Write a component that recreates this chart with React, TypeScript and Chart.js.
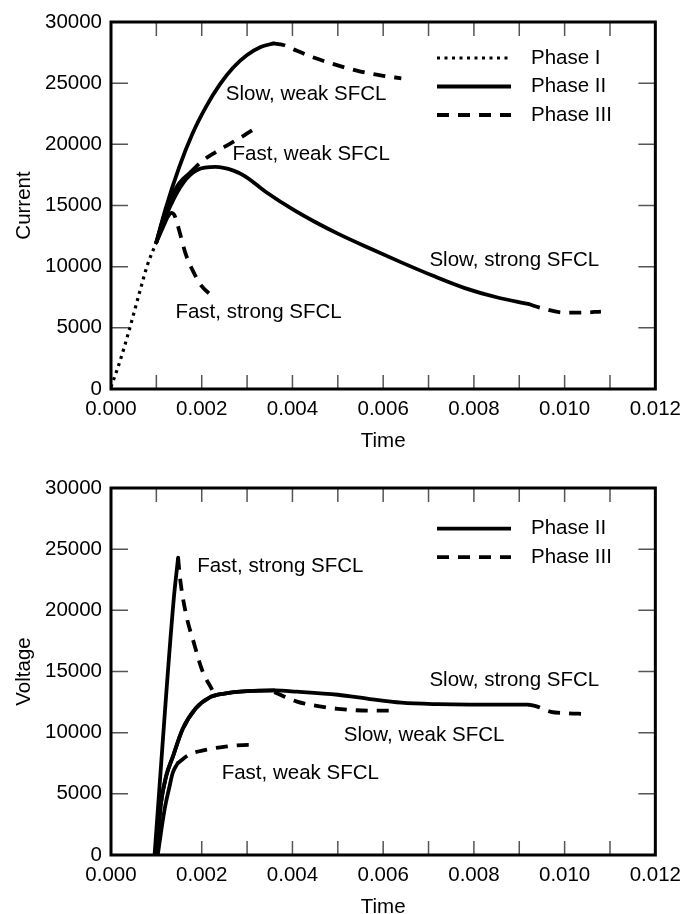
import React, { useEffect, useRef } from 'react';
import { Chart, registerables } from 'chart.js';

Chart.register(...registerables);

type Pt = [number, number];

// ---------- axes ----------
const timeTicks = [0, 0.002, 0.004, 0.006, 0.008, 0.01, 0.012];
const timeInnerTicks = [0.001, 0.002, 0.003, 0.004, 0.005, 0.006, 0.007, 0.008, 0.009, 0.01, 0.011];
const valueTicks = [0, 5000, 10000, 15000, 20000, 25000, 30000];

// ---------- top chart: Current ----------
const curPhaseI: Pt[] = [[0, 150], [0.0002, 2300], [0.0004, 4800], [0.0006, 7500], [0.0008, 10100], [0.001, 12000]];
const curSlowWeakII: Pt[] = [[0.001, 12000], [0.0012, 14700], [0.0015, 18100], [0.0018, 20900], [0.0021, 23100], [0.0024, 24900], [0.0027, 26300], [0.003, 27300], [0.0033, 27950], [0.00358, 28250]];
const curSlowWeakIII: Pt[] = [[0.00358, 28250], [0.0038, 28120], [0.0041, 27650], [0.0045, 27050], [0.005, 26450], [0.0055, 25950], [0.006, 25600], [0.0064, 25400]];
const curFastWeakII: Pt[] = [[0.001, 12000], [0.0012, 14500], [0.00136, 15900], [0.0015, 16800], [0.00175, 17700]];
const curFastWeakIII: Pt[] = [[0.00175, 17700], [0.002, 18600], [0.0023, 19350], [0.0026, 20000], [0.0029, 20650], [0.0032, 21350]];
const curSlowStrongII: Pt[] = [[0.001, 12000], [0.0013, 14900], [0.0016, 16900], [0.0019, 17900], [0.0023, 18150], [0.0027, 17850], [0.00295, 17400], [0.0034, 16150], [0.004, 14700], [0.0045, 13650], [0.005, 12700], [0.0057, 11500], [0.0064, 10350], [0.0071, 9250], [0.0078, 8250], [0.0085, 7500], [0.0092, 6950]];
const curSlowStrongIII: Pt[] = [[0.0092, 6950], [0.0095, 6600], [0.01, 6250], [0.0104, 6250], [0.0108, 6330]];
const curFastStrongII: Pt[] = [[0.001, 12000], [0.00125, 14100]];
const curFastStrongIII: Pt[] = [[0.00125, 14100], [0.00133, 14400], [0.0014, 14200], [0.0015, 13000], [0.00165, 11000], [0.0018, 9700], [0.002, 8400], [0.00223, 7600]];

// ---------- bottom chart: Voltage ----------
const volFastStrongII: Pt[] = [[0.00096, 0], [0.00138, 20800], [0.00148, 24300]];
const volFastStrongIII: Pt[] = [[0.00148, 24300], [0.00152, 22700], [0.00165, 19750], [0.00183, 17300], [0.00201, 15100], [0.00223, 13500]];
const volFastWeakII: Pt[] = [[0.00103, 0], [0.00118, 3700], [0.00129, 5600], [0.00136, 6700], [0.00147, 7500]];
const volFastWeakIII: Pt[] = [[0.00147, 7500], [0.00172, 8200], [0.00209, 8600], [0.00252, 8860], [0.00303, 9000], [0.00321, 9000]];
const volSlowStrongII: Pt[] = [[0.001, 0], [0.0011, 4200], [0.00122, 6500], [0.00136, 8000], [0.00158, 10300], [0.00187, 12000], [0.00216, 12850], [0.0025, 13200], [0.003, 13400], [0.0036, 13450], [0.0041, 13350], [0.005, 13100], [0.0057, 12750], [0.0064, 12450], [0.0072, 12330], [0.0079, 12300], [0.0092, 12300]];
const volSlowStrongIII: Pt[] = [[0.0092, 12300], [0.0094, 12130], [0.0097, 11700], [0.01, 11600], [0.01045, 11530]];
const volSlowWeakII: Pt[] = [[0.001, 0], [0.0011, 4200], [0.00122, 6500], [0.00136, 8000], [0.00158, 10300], [0.00187, 12000], [0.00216, 12850], [0.0025, 13200], [0.003, 13400], [0.0036, 13450]];
const volSlowWeakIII: Pt[] = [[0.0036, 13300], [0.0041, 12540], [0.0046, 12150], [0.005, 11950], [0.0057, 11800], [0.0062, 11800]];

// ---------- labels ----------
const phaseNames = ['Phase I', 'Phase II', 'Phase III'];
type Note = { text: string; t: number; v: number };
const curNotes: Note[] = [
  { text: 'Slow, weak SFCL', t: 0.00253, v: 24050 },
  { text: 'Fast, weak SFCL', t: 0.00268, v: 19150 },
  { text: 'Fast, strong SFCL', t: 0.00142, v: 6300 },
  { text: 'Slow, strong SFCL', t: 0.00702, v: 10550 },
];
const volNotes: Note[] = [
  { text: 'Fast, strong SFCL', t: 0.0019, v: 23600 },
  { text: 'Slow, strong SFCL', t: 0.00702, v: 14250 },
  { text: 'Slow, weak SFCL', t: 0.00513, v: 9800 },
  { text: 'Fast, weak SFCL', t: 0.00244, v: 6700 },
];

const FONT = '"Liberation Sans", Arial, Helvetica, sans-serif';
const FS = 20.5;
const DOT = [3, 4.5];
const DASH = [12, 9];
const dashFor: Record<string, number[]> = { 'Phase I': DOT, 'Phase II': [], 'Phase III': DASH };

function ds(points: Pt[], phase: string) {
  const dash = dashFor[phase];
  return {
    label: phase,
    data: points.map(([x, y]) => ({ x, y })),
    borderColor: '#000',
    borderWidth: phase === 'Phase I' ? 3.2 : 3.8,
    borderDash: dash,
    borderCapStyle: dash.length ? 'butt' : 'round',
    borderJoinStyle: 'round',
    pointRadius: 0,
    fill: false,
    cubicInterpolationMode: 'monotone',
  } as any;
}

function decor(legend: string[], legendTop: number, notes: Note[]) {
  return {
    id: 'decor',
    beforeDatasetsDraw(chart: any) {
      const { ctx, chartArea: a, scales } = chart;
      ctx.save();
      ctx.strokeStyle = '#555';
      ctx.lineWidth = 1.5;
      ctx.beginPath();
      for (const t of timeInnerTicks) {
        const x = scales.x.getPixelForValue(t);
        ctx.moveTo(x, a.top); ctx.lineTo(x, a.top + 14);
        ctx.moveTo(x, a.bottom); ctx.lineTo(x, a.bottom - 14);
      }
      for (const v of valueTicks.slice(1, -1)) {
        const y = scales.y.getPixelForValue(v);
        ctx.moveTo(a.left, y); ctx.lineTo(a.left + 17, y);
        ctx.moveTo(a.right, y); ctx.lineTo(a.right - 17, y);
      }
      ctx.stroke();
      ctx.restore();
    },
    afterDatasetsDraw(chart: any) {
      const { ctx, chartArea: a, scales } = chart;
      ctx.save();
      ctx.strokeStyle = '#000';
      ctx.lineWidth = 3;
      ctx.setLineDash([]);
      ctx.strokeRect(a.left, a.top, a.right - a.left, a.bottom - a.top);
      ctx.font = `${FS}px ${FONT}`;
      ctx.fillStyle = '#000';
      ctx.textBaseline = 'middle';
      ctx.textAlign = 'left';
      legend.forEach((name, i) => {
        const y = a.top + legendTop + i * 28.5;
        ctx.beginPath();
        ctx.setLineDash(dashFor[name]);
        ctx.lineWidth = name === 'Phase I' ? 3.2 : 3.8;
        ctx.lineCap = 'butt';
        ctx.moveTo(a.left + 326, y);
        ctx.lineTo(a.left + 400, y);
        ctx.stroke();
        ctx.setLineDash([]);
        ctx.fillText(name, a.left + 420, y);
      });
      for (const n of notes) {
        ctx.fillText(n.text, scales.x.getPixelForValue(n.t), scales.y.getPixelForValue(n.v));
      }
      ctx.restore();
    },
  };
}

function makeConfig(datasets: any[], yTitle: string, padTop: number, xHeight: number, titlePadBottom: number, plugin: any) {
  return {
    type: 'line',
    data: { datasets },
    options: {
      animation: false,
      responsive: false,
      devicePixelRatio: 1,
      layout: { padding: { top: padTop, right: 29, left: 0, bottom: 0 } },
      plugins: { legend: { display: false }, tooltip: { enabled: false } },
      scales: {
        x: {
          type: 'linear',
          min: 0,
          max: 0.012,
          grid: { display: false, drawTicks: false },
          border: { display: false },
          afterBuildTicks: (s: any) => { s.ticks = timeTicks.map((value) => ({ value })); },
          afterFit: (s: any) => { s.height = xHeight; },
          ticks: {
            color: '#000',
            padding: 8,
            maxRotation: 0,
            autoSkip: false,
            font: { family: FONT, size: FS },
            callback: (v: any) => Number(v).toFixed(3),
          },
          title: {
            display: true,
            text: 'Time',
            color: '#000',
            font: { family: FONT, size: FS },
            padding: { top: 0, bottom: titlePadBottom },
          },
        },
        y: {
          type: 'linear',
          min: 0,
          max: 30000,
          grid: { display: false, drawTicks: false },
          border: { display: false },
          afterBuildTicks: (s: any) => { s.ticks = valueTicks.map((value) => ({ value })); },
          afterFit: (s: any) => { s.width = 111; },
          ticks: {
            color: '#000',
            padding: 9,
            autoSkip: false,
            font: { family: FONT, size: FS },
            callback: (v: any) => String(v),
          },
          title: {
            display: true,
            text: yTitle,
            color: '#000',
            font: { family: FONT, size: FS },
            padding: { top: 12, bottom: 0 },
          },
        },
      },
    },
    plugins: [plugin],
  } as any;
}

export default function App() {
  const topRef = useRef<HTMLCanvasElement>(null);
  const botRef = useRef<HTMLCanvasElement>(null);

  useEffect(() => {
    const top = new Chart(
      topRef.current!,
      makeConfig(
        [
          ds(curPhaseI, 'Phase I'),
          ds(curSlowWeakII, 'Phase II'),
          ds(curSlowWeakIII, 'Phase III'),
          ds(curFastWeakII, 'Phase II'),
          ds(curFastWeakIII, 'Phase III'),
          ds(curSlowStrongII, 'Phase II'),
          ds(curSlowStrongIII, 'Phase III'),
          ds(curFastStrongII, 'Phase II'),
          ds(curFastStrongIII, 'Phase III'),
        ],
        'Current',
        22,
        66,
        1,
        decor(phaseNames, 36, curNotes)
      )
    );
    const bot = new Chart(
      botRef.current!,
      makeConfig(
        [
          ds(volFastStrongII, 'Phase II'),
          ds(volFastStrongIII, 'Phase III'),
          ds(volFastWeakII, 'Phase II'),
          ds(volFastWeakIII, 'Phase III'),
          ds(volSlowStrongII, 'Phase II'),
          ds(volSlowStrongIII, 'Phase III'),
          ds(volSlowWeakII, 'Phase II'),
          ds(volSlowWeakIII, 'Phase III'),
        ],
        'Voltage',
        33,
        59,
        -6,
        decor(phaseNames.slice(1), 40.6, volNotes)
      )
    );
    return () => {
      top.destroy();
      bot.destroy();
    };
  }, []);

  return (
    <div style={{ position: 'absolute', left: 0, top: 0, width: 689, height: 914, background: '#fff' }}>
      <canvas ref={topRef} width={689} height={455} style={{ position: 'absolute', left: 0, top: 0, width: 689, height: 455 }} />
      <canvas ref={botRef} width={689} height={459} style={{ position: 'absolute', left: 0, top: 455, width: 689, height: 459 }} />
    </div>
  );
}
